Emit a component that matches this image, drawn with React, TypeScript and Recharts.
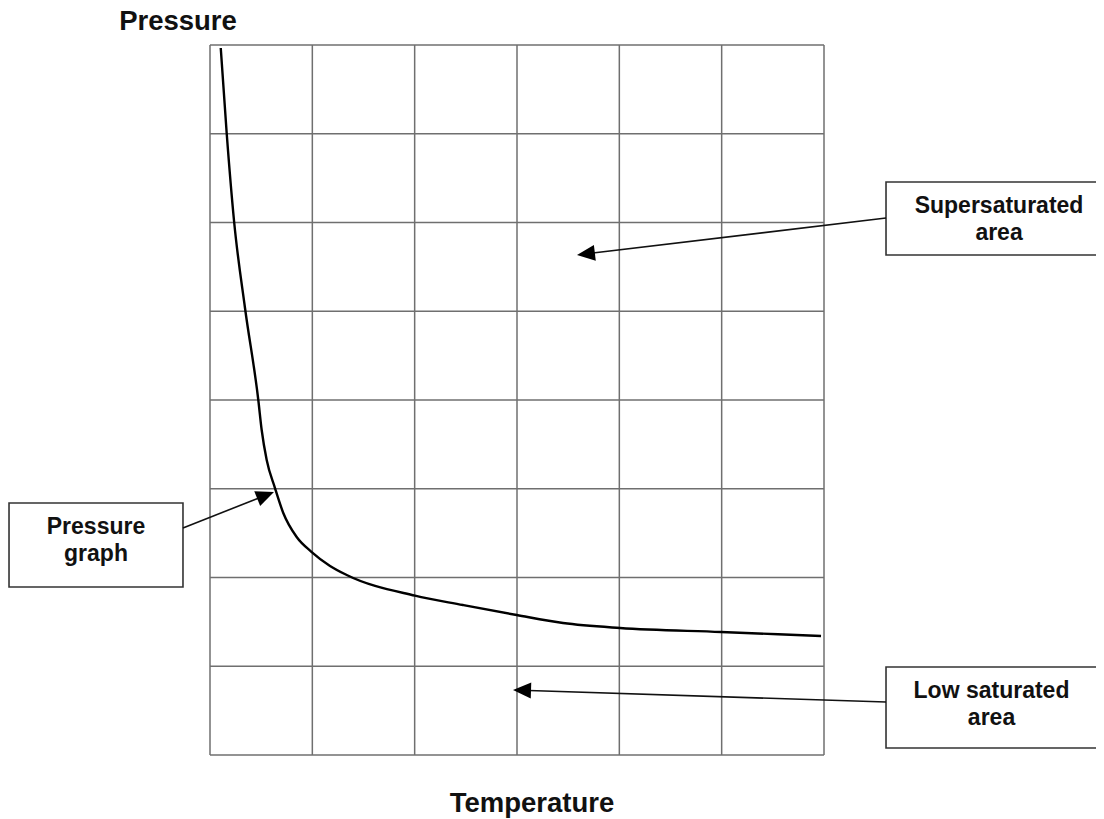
import React from "react";
import {
  LineChart,
  Line,
  XAxis,
  YAxis,
  ReferenceLine,
  ReferenceArea,
} from "recharts";

// ---- data ----
const temperature = [0.105, 0.163, 0.235, 0.342, 0.472, 0.505, 0.554, 0.635, 0.716, 0.847, 0.994, 1.173, 1.336, 2.003, 2.472, 2.997, 3.45, 4.007, 4.994, 5.971];
const pressure = [7.966, 7.008, 6.017, 5.037, 4.0, 3.662, 3.324, 3.008, 2.727, 2.456, 2.287, 2.13, 2.028, 1.795, 1.69, 1.577, 1.487, 1.431, 1.386, 1.341];
const xTicks = [0, 1, 2, 3, 4, 5, 6];
const yTicks = [0, 1, 2, 3, 4, 5, 6, 7, 8];
const xAxisTitle = "Temperature";
const yAxisTitle = "Pressure";
const calloutTexts = [
  ["Supersaturated", "area"],
  ["Low saturated", "area"],
  ["Pressure", "graph"],
];

const data = temperature.map((t, i) => ({ t, p: pressure[i] }));

// ---- callout layout (in chart data units) ----
const calloutBoxes = [
  { x1: 6.606, x2: 8.815, y1: 5.634, y2: 6.456 },
  { x1: 6.606, x2: 8.668, y1: 0.079, y2: 0.992 },
  { x1: -1.964, x2: -0.264, y1: 1.893, y2: 2.839 },
];
const calloutArrows = [
  [{ x: 6.606, y: 6.051 }, { x: 3.586, y: 5.634 }],
  [{ x: 6.606, y: 0.597 }, { x: 2.961, y: 0.732 }],
  [{ x: -0.264, y: 2.558 }, { x: 0.625, y: 2.963 }],
];

const FONT = "'Liberation Sans', Arial, Helvetica, sans-serif";
const GRID = "#6f6f6f";

const Arrow = (props: any) => {
  const { x1, y1, x2, y2 } = props;
  const dx = x2 - x1;
  const dy = y2 - y1;
  const len = Math.sqrt(dx * dx + dy * dy) || 1;
  const ux = dx / len;
  const uy = dy / len;
  const headLen = 18;
  const headW = 8;
  const bx = x2 - ux * headLen;
  const by = y2 - uy * headLen;
  const px = -uy;
  const py = ux;
  const pts = `${x2},${y2} ${bx + px * headW},${by + py * headW} ${bx - px * headW},${by - py * headW}`;
  return (
    <g>
      <line x1={x1} y1={y1} x2={bx + ux * 2} y2={by + uy * 2} stroke="#111" strokeWidth={1.6} />
      <polygon points={pts} fill="#000" />
    </g>
  );
};

const boxLabel = (lines: string[]) => (props: any) => {
  const vb = props.viewBox || {};
  const cx = vb.x + vb.width / 2;
  const top = vb.y;
  return (
    <text textAnchor="middle" fontFamily={FONT} fontWeight="bold" fontSize={23} fill="#111">
      <tspan x={cx} y={top + 31}>{lines[0]}</tspan>
      <tspan x={cx} y={top + 58}>{lines[1]}</tspan>
    </text>
  );
};

const axisTitles = (props: any) => {
  const vb = props.viewBox || {};
  return (
    <g>
      <text
        x={vb.x + vb.width / 2 + 15}
        y={vb.y + vb.height + 57}
        textAnchor="middle"
        fontFamily={FONT}
        fontWeight="bold"
        fontSize={27.5}
        fill="#111"
      >
        {xAxisTitle}
      </text>
      <text
        x={vb.x - 32}
        y={vb.y - 15}
        textAnchor="middle"
        fontFamily={FONT}
        fontWeight="bold"
        fontSize={27.5}
        fill="#111"
      >
        {yAxisTitle}
      </text>
    </g>
  );
};

export default function App() {
  return (
    <div style={{ width: 1104, height: 819, margin: "-8px 0 0 -8px" }}>
      <LineChart
        width={1104}
        height={819}
        data={data}
        margin={{ top: 45, left: 210, right: 280, bottom: 64 }}
        style={{ overflow: "visible" }}
      >
        <XAxis dataKey="t" type="number" domain={[0, 6]} ticks={xTicks} allowDataOverflow hide />
        <YAxis type="number" domain={[0, 8]} ticks={yTicks} allowDataOverflow hide />
        {xTicks.map((t) => (
          <ReferenceLine key={"vx" + t} x={t} stroke={GRID} strokeWidth={1.5} ifOverflow="visible" />
        ))}
        {yTicks.map((t) => (
          <ReferenceLine key={"hy" + t} y={t} stroke={GRID} strokeWidth={1.5} ifOverflow="visible" />
        ))}
        <ReferenceArea
          x1={0}
          x2={6}
          y1={0}
          y2={8}
          ifOverflow="visible"
          fill="none"
          stroke="none"
          label={{ content: axisTitles }}
        />
        {calloutBoxes.map((b, i) => (
          <ReferenceArea
            key={"b" + i}
            x1={b.x1}
            x2={b.x2}
            y1={b.y1}
            y2={b.y2}
            ifOverflow="visible"
            fill="#fff"
            fillOpacity={1}
            stroke="#333"
            strokeWidth={1.6}
            label={{ content: boxLabel(calloutTexts[i]) }}
          />
        ))}
        {calloutArrows.map((seg, i) => (
          <ReferenceLine
            key={"a" + i}
            segment={seg}
            ifOverflow="visible"
            stroke="#111"
            shape={(p: any) => <Arrow {...p} />}
          />
        ))}
        <Line dataKey="p" type="monotone" stroke="#000" strokeWidth={2.4} dot={false} isAnimationActive={false} />
      </LineChart>
    </div>
  );
}
